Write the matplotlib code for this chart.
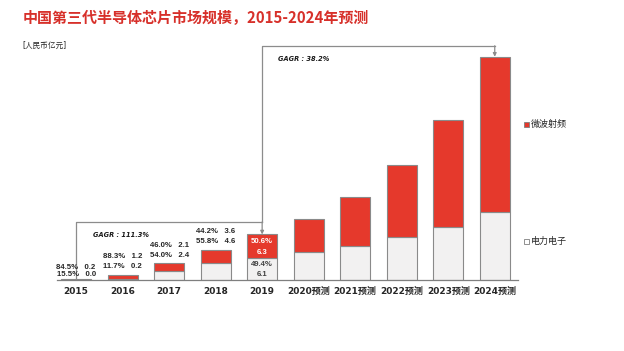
import matplotlib
matplotlib.use("Agg")
import matplotlib.pyplot as plt
from matplotlib.patches import Rectangle

plt.rcParams["font.family"] = ["DejaVu Sans", "Noto Sans CJK SC"]

# data (亿元)
years = ["2015", "2016", "2017", "2018", "2019",
         "2020预测", "2021预测", "2022预测", "2023预测", "2024预测"]
power = [0.0, 0.2, 2.4, 4.6, 6.1, 7.6, 9.3, 11.8, 14.5, 18.4]   # 电力电子
rf = [0.2, 1.2, 2.1, 3.6, 6.3, 9.1, 13.4, 19.5, 29.0, 42.4]     # 微波射频
rf_share = ["84.5%", "88.3%", "46.0%", "44.2%", "50.6%"]
power_share = ["15.5%", "11.7%", "54.0%", "55.8%", "49.4%"]
cagr_hist = "GAGR : 111.3%"
cagr_fcst = "GAGR : 38.2%"

RED = "#e5392c"
LIGHT = "#f2f1f1"
EDGE = "#8a8a8a"
LINE = "#8c8c8c"
TXT = "#262626"
LBL = dict(family=["Liberation Sans"], fontsize=5.6, fontweight="bold", ha="center",
           va="center", zorder=4)

W, H = 624, 351
fig = plt.figure(figsize=(W / 100, H / 100), dpi=100)
ymax = 64.0
ax = fig.add_axes([57 / W, 71 / H, (518 - 57) / W, (280 - 45) / H])
ax.set_xlim(-0.41, 9.5)
ax.set_ylim(0, ymax)
ppu = (280 - 45) / ymax  # pixels per unit

x = list(range(len(years)))
tops = [p + r for p, r in zip(power, rf)]
ax.bar(x, power, width=0.645, color=LIGHT, edgecolor=EDGE, linewidth=0.8, zorder=2)
ax.bar(x, rf, bottom=power, width=0.645, color=RED, edgecolor=EDGE, linewidth=0.8, zorder=2)

for s in ["top", "right", "left"]:
    ax.spines[s].set_visible(False)
ax.spines["bottom"].set_color("#7f7f7f")
ax.spines["bottom"].set_linewidth(0.9)
ax.set_yticks([])
ax.set_xticks(x)
ax.set_xticklabels(years, fontsize=6.5, fontweight="bold", color=TXT)
ax.tick_params(axis="x", length=0, pad=5)

# value labels above the small historical bars
for i in range(4):
    lo = 5 if i == 0 else 8
    hi = 12 if i == 0 else 18
    ax.text(i, tops[i] + lo / ppu, f"{power_share[i]}   {power[i]:.1f}", color=TXT, **LBL)
    ax.text(i, tops[i] + hi / ppu, f"{rf_share[i]}   {rf[i]:.1f}", color=TXT, **LBL)

# 2019 labels inside the bar
i = 4
rmid = power[i] + rf[i] / 2
ax.text(i, rmid + 5 / ppu, rf_share[i], color="white", **LBL)
ax.text(i, rmid - 6 / ppu, f"{rf[i]:.1f}", color="white", **LBL)
pmid = power[i] / 2
ax.text(i, pmid + 4 / ppu, power_share[i], color="#404040", **LBL)
ax.text(i, pmid - 6 / ppu, f"{power[i]:.1f}", color="#404040", **LBL)

# CAGR brackets
y1 = 15.8
y2 = 63.8
ax.plot([0, 0, 4], [tops[0], y1, y1], color=LINE, lw=0.9, zorder=3, clip_on=False)
ax.plot([4, 4, 9], [y1, y2, y2], color=LINE, lw=0.9, zorder=3, clip_on=False)
arrow = dict(arrowstyle="-|>", color=LINE, lw=0.9, mutation_scale=5, shrinkA=0, shrinkB=0)
ax.annotate("", xy=(4, tops[4]), xytext=(4, y1), arrowprops=arrow, zorder=3)
ax.annotate("", xy=(9, tops[9]), xytext=(9, y2), arrowprops=arrow, annotation_clip=False, zorder=3)
ax.text(0.37, y1 - 13 / ppu, cagr_hist, fontsize=4.8, fontweight="bold", style="italic",
        color="#1a1a1a", va="center")
ax.text(4.35, y2 - 13 / ppu, cagr_fcst, fontsize=4.8, fontweight="bold", style="italic",
        color="#1a1a1a", va="center")

# titles
fig.text(23 / W, 1 - 18 / H, "中国第三代半导体芯片市场规模，2015-2024年预测",
         family=["Noto Sans CJK SC"], fontsize=10.8, fontweight="bold", color="#d7302a",
         va="center", ha="left")
fig.text(22 / W, 1 - 45 / H, "[人民币亿元]", family=["DejaVu Sans", "Noto Sans CJK SC"],
         fontsize=5.5, color=TXT, va="center", ha="left")

# legend
for ypx, fc, label in [(124, RED, "微波射频"), (241, "white", "电力电子")]:
    fig.add_artist(Rectangle((524 / W, 1 - (ypx + 2.5) / H), 5 / W, 5 / H,
                             transform=fig.transFigure, facecolor=fc, edgecolor="#7f7f7f", lw=0.6))
    fig.text(531 / W, 1 - ypx / H, label, family=["Noto Sans CJK SC"], fontsize=6.5,
             color=TXT, va="center", ha="left")

fig.savefig("out.png", dpi=100, facecolor="white")
